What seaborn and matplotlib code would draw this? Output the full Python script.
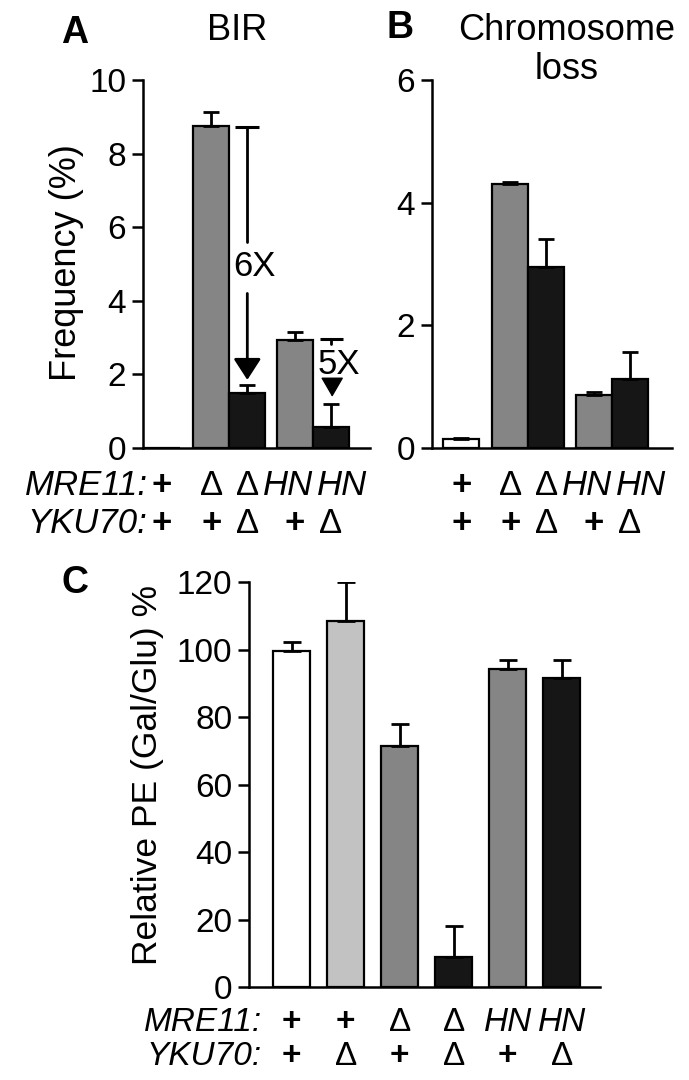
import matplotlib.pyplot as plt
import seaborn as sns
import numpy as np
import pandas as pd

# Genotipos de los paneles A y B
mre11_ab = ["+", "Δ", "Δ", "HN", "HN"]
yku70_ab = ["+", "+", "Δ", "+", "Δ"]
bir_freq = [0.0, 8.75, 1.49, 2.94, 0.57]
bir_err = [0.0, 0.37, 0.23, 0.21, 0.63]
loss_freq = [0.15, 4.30, 2.95, 0.86, 1.13]
loss_err = [0.02, 0.04, 0.45, 0.05, 0.43]

# Panel C
mre11_c = ["+", "+", "Δ", "Δ", "HN", "HN"]
yku70_c = ["+", "Δ", "+", "Δ", "+", "Δ"]
pe_rel = [99.6, 108.4, 71.4, 8.9, 94.2, 91.6]
pe_err = [2.6, 11.6, 6.5, 9.2, 2.7, 5.3]

bar_colors = {"+/+": "white", "+/Δ": "#c2c2c2", "Δ/+": "#858585",
              "Δ/Δ": "#161616", "HN/+": "#858585", "HN/Δ": "#161616"}

# posiciones de las barras en A y B (pares pegados), en anchos de barra
pair_pos = [0, 1.37, 2.37, 3.69, 4.69]
mre_nudge = [0, 0, 0, -0.18, 0.3]

sns.set_style("ticks")
plt.rcParams["font.family"] = ["Liberation Sans", "DejaVu Sans"]
plt.rcParams["axes.linewidth"] = 1.8
plt.rcParams["axes.edgecolor"] = "black"
plt.rcParams["text.color"] = "black"
plt.rcParams["ytick.color"] = "black"
plt.rcParams["ytick.labelcolor"] = "black"

TICK = 24


def draw_bars(ax, x, vals, mre, yku, native, width):
    geno = [f"{a}/{b}" for a, b in zip(mre, yku)]
    df = pd.DataFrame({"x": x if native else geno, "val": vals, "geno": geno})
    sns.barplot(data=df, x="x", y="val", hue="geno", palette=bar_colors,
                dodge=False, legend=False, native_scale=native, width=width,
                edgecolor="black", linewidth=1.6, errorbar=None, ax=ax)


def draw_err(ax, x, vals, errs, cap):
    x = np.asarray(x, float)
    v = np.asarray(vals, float)
    e = np.asarray(errs, float)
    m = e > 0
    ax.errorbar(x[m], v[m], yerr=[np.zeros(m.sum()), e[m]], fmt="none",
                ecolor="black", elinewidth=2.0, capsize=cap, capthick=2.0, zorder=4)


def genotype_rows(ax, xs, mre, yku, y1, y2, xlab, size, nudge=None):
    tr = ax.get_xaxis_transform()
    if nudge is None:
        nudge = [0] * len(xs)
    for x, a, b, n in zip(xs, mre, yku, nudge):
        for txt, yy, dx in ((a, y1, n), (b, y2, 0)):
            st = {}
            if txt == "+":
                st = dict(fontweight="bold")
            elif txt == "HN":
                st = dict(fontstyle="italic")
            ax.text(x + dx, yy, txt, transform=tr, ha="center", va="baseline",
                    fontsize=size, clip_on=False, **st)
    if xlab is not None:
        for lab, yy in (("MRE11:", y1), ("YKU70:", y2)):
            ax.text(xlab, yy, lab, transform=ax.transAxes, ha="right", va="baseline",
                    fontsize=size, fontstyle="italic", clip_on=False)


def style_axis(ax, ymax, step, xlim):
    ax.set_ylim(0, ymax)
    ax.set_yticks(np.arange(0, ymax + 0.01, step))
    ax.set_xlim(*xlim)
    ax.set_xticks([])
    ax.set_xlabel("")
    ax.set_ylabel("")
    ax.tick_params(axis="y", length=8, width=1.8, labelsize=TICK, pad=4,
                   colors="black")
    sns.despine(ax=ax)


fig = plt.figure(figsize=(6.89, 10.8), dpi=100)

# ---- Panel A: BIR ----
axA = fig.add_axes([0.2075, 0.5852, 0.3295, 0.3407])
draw_bars(axA, pair_pos, bir_freq, mre11_ab, yku70_ab, True, 1.0)
draw_err(axA, pair_pos, bir_freq, bir_err, 6)
style_axis(axA, 10, 2, (-0.53, 5.78))
genotype_rows(axA, pair_pos, mre11_ab, yku70_ab, -0.128, -0.231, 0.02, 25, mre_nudge)

# flechas de reducción 6X y 5X
axA.plot([2.03, 2.69], [8.73, 8.73], color="black", lw=2.2, solid_capstyle="butt")
axA.plot([2.37, 2.37], [8.73, 5.6], color="black", lw=2.0)
axA.text(2.58, 4.92, "6X", fontsize=25, ha="center", va="center")
axA.annotate("", xy=(2.37, 1.85), xytext=(2.37, 4.2),
             arrowprops=dict(arrowstyle="-|>,head_length=0.65,head_width=0.42",
                             mutation_scale=20, color="black", lw=2.0,
                             shrinkA=0, shrinkB=0))
axA.plot([4.39, 5.03], [2.95, 2.95], color="black", lw=2.2, solid_capstyle="butt")
axA.plot([4.71, 4.71], [2.95, 2.82], color="black", lw=2.0)
axA.text(4.92, 2.26, "5X", fontsize=25, ha="center", va="center")
axA.annotate("", xy=(4.73, 1.39), xytext=(4.73, 1.86),
             arrowprops=dict(arrowstyle="-|>,head_length=0.62,head_width=0.36",
                             mutation_scale=20, color="black", lw=1.0,
                             shrinkA=0, shrinkB=0))

# ---- Panel B: Chromosome loss ----
axB = fig.add_axes([0.627, 0.5852, 0.3483, 0.3407])
draw_bars(axB, pair_pos, loss_freq, mre11_ab, yku70_ab, True, 1.0)
draw_err(axB, pair_pos, loss_freq, loss_err, 6)
style_axis(axB, 6, 2, (-0.81, 5.86))
genotype_rows(axB, pair_pos, mre11_ab, yku70_ab, -0.128, -0.231, None, 25, mre_nudge)

# ---- Panel C: Relative PE ----
axC = fig.add_axes([0.3614, 0.0861, 0.5094, 0.375])
draw_bars(axC, None, pe_rel, mre11_c, yku70_c, False, 0.685)
draw_err(axC, np.arange(len(pe_rel)), pe_rel, pe_err, 6.5)
style_axis(axC, 120, 20, (-0.79, 5.71))
genotype_rows(axC, np.arange(len(pe_rel)), mre11_c, yku70_c, -0.108, -0.192, 0.037, 24)

# textos de la figura
fig.text(75 / 689, 1 - 33 / 1080, "A", fontsize=27, fontweight="bold", ha="center", va="center")
fig.text(237 / 689, 1 - 30 / 1080, "BIR", fontsize=26, ha="center", va="center")
fig.text(400 / 689, 1 - 28 / 1080, "B", fontsize=27, fontweight="bold", ha="center", va="center")
fig.text(567 / 689, 1 - 50 / 1080, "Chromosome\nloss", fontsize=26, ha="center", va="center",
         linespacing=1.12)
fig.text(75 / 689, 1 - 583 / 1080, "C", fontsize=27, fontweight="bold", ha="center", va="center")
fig.text(67 / 689, 1 - 263 / 1080, "Frequency (%)", fontsize=26, rotation=90,
         ha="center", va="center")
fig.text(147 / 689, 1 - 775 / 1080, "Relative PE (Gal/Glu) %", fontsize=25.5, rotation=90,
         ha="center", va="center")

plt.savefig("out.png", dpi=100)
